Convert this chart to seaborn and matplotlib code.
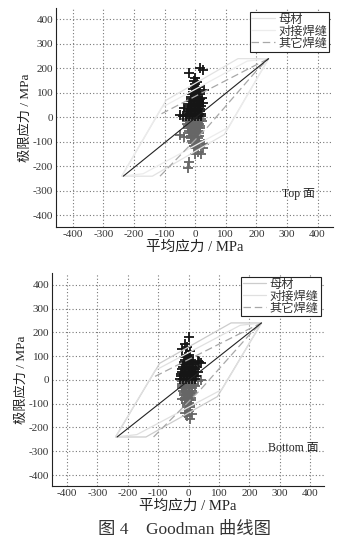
import numpy as np
import pandas as pd
import matplotlib
matplotlib.use("Agg")
import matplotlib.pyplot as plt
import seaborn as sns
from matplotlib.lines import Line2D

sns.set_theme(style="white")
plt.rcParams['font.family'] = ['Liberation Serif', 'Noto Sans CJK SC']

# ---------------- data ----------------
ticks = [-400, -300, -200, -100, 0, 100, 200, 300, 400]
legend_labels = ["母材", "对接焊缝", "其它焊缝"]

# diagonal (mean = max)
diag_x = [-235, 240]
diag_y = [-240, 240]

# envelopes (mean stress, limit stress)
base_x = [-240, -95, 140, 240, 95, -140, -240]
base_y = [-240, 70, 240, 240, -70, -240, -240]
butt_x = [-240, -110, 170, 240, 110, -170, -240]
butt_y = [-240, 40, 230, 240, -40, -230, -240]
other_up_x = [-110, 200, 240]
other_up_y = [15, 215, 240]
other_lo_x = [-115, 40, 200, 240]
other_lo_y = [-240, -40, 190, 240]

# Top face: (mean, max) points and (mean, min) points
top_max_pts = [
    (-30, 5), (-20, 5), (-10, 5), (0, 5), (10, 5), (18, 5),
    (-28, 15), (-18, 15), (-8, 15), (2, 15), (12, 15), (20, 15),
    (-25, 25), (-15, 25), (-5, 25), (5, 25), (15, 25),
    (-22, 35), (-12, 35), (-2, 35), (8, 35), (16, 35),
    (-20, 45), (-10, 45), (0, 45), (10, 45), (18, 45),
    (-18, 55), (-8, 55), (2, 55), (12, 55),
    (-15, 65), (-5, 65), (5, 65), (14, 65),
    (-14, 75), (-4, 75), (6, 75), (15, 75),
    (-12, 85), (-2, 85), (8, 85),
    (-10, 95), (0, 95), (10, 95),
    (-8, 105), (2, 105), (12, 105),
    (-6, 115), (4, 115), (-2, 125), (8, 125),
    (-20, 180), (15, 200), (25, 195), (0, 160), (-5, 150), (5, 145), (0, 135), (30, 110),
    (22, 80), (-35, 40), (-50, 8), (-40, 5), (25, 60),
]
top_min_pts = [
    (-30, -5), (-20, -5), (-10, -5), (0, -5), (10, -5), (20, -5),
    (-28, -15), (-18, -15), (-8, -15), (2, -15), (12, -15), (22, -15),
    (-26, -25), (-16, -25), (-6, -25), (4, -25), (14, -25),
    (-24, -35), (-14, -35), (-4, -35), (6, -35), (16, -35),
    (-22, -45), (-12, -45), (-2, -45), (8, -45), (16, -45),
    (-20, -55), (-10, -55), (0, -55), (10, -55),
    (-18, -65), (-8, -65), (2, -65), (12, -65),
    (-15, -75), (-5, -75), (5, -75), (14, -75),
    (-12, -85), (-2, -85), (8, -85),
    (-10, -95), (0, -95), (10, -95),
    (-8, -105), (2, -105), (12, -105),
    (-5, -115), (5, -115), (-2, -125), (8, -125),
    (-50, -70), (-35, -80), (20, -150), (0, -150), (10, -140), (30, -110),
    (-20, -180), (-25, -205), (25, -125),
]

# Bottom face
bot_max_pts = [
    (-28, 5), (-18, 5), (-8, 5), (2, 5), (12, 5), (22, 5),
    (-26, 15), (-16, 15), (-6, 15), (4, 15), (14, 15), (24, 15),
    (-25, 25), (-15, 25), (-5, 25), (5, 25), (15, 25),
    (-22, 35), (-12, 35), (-2, 35), (8, 35), (18, 35), (30, 35),
    (-20, 45), (-10, 45), (0, 45), (10, 45), (20, 45),
    (-18, 55), (-8, 55), (2, 55), (12, 55), (25, 55),
    (-16, 65), (-6, 65), (4, 65), (14, 65),
    (-14, 75), (-4, 75), (6, 75), (16, 75), (35, 75),
    (-12, 85), (-2, 85), (8, 85),
    (-10, 95), (0, 95), (-8, 105), (2, 105),
    (0, 180), (-20, 130), (-10, 150), (-5, 140), (5, 120), (40, 70), (30, 80),
]
bot_min_pts = [
    (-22, -5), (-12, -5), (-2, -5), (8, -5), (18, -5), (30, -5), (40, -2),
    (-22, -15), (-12, -15), (-2, -15), (8, -15), (18, -15),
    (-20, -25), (-10, -25), (0, -25), (10, -25), (20, -25),
    (-20, -35), (-10, -35), (0, -35), (10, -35),
    (-18, -45), (-8, -45), (2, -45), (12, -45),
    (-16, -55), (-6, -55), (4, -55), (12, -55),
    (-14, -65), (-4, -65), (6, -65),
    (-12, -75), (-2, -75), (8, -75),
    (-10, -85), (0, -85), (8, -85),
    (-8, -95), (2, -95), (-6, -105), (4, -105), (-4, -115), (6, -115),
    (-5, -150), (5, -165), (-10, -140), (10, -145), (0, -130), (-20, -80),
]

panels = [
    dict(pos=[0.155, 0.584, 0.767, 0.401], xlim=(-455, 450), ylim=(-448, 446),
         max_pts=top_max_pts, min_pts=top_min_pts, base_c="#e2e2e2", butt_c="#ececec",
         label="Top 面", label_xy=(283, -313)),
    dict(pos=[0.144, 0.110, 0.754, 0.390], xlim=(-449, 446), ylim=(-446, 450),
         max_pts=bot_max_pts, min_pts=bot_min_pts, base_c="#cccccc", butt_c="#e0e0e0",
         label="Bottom 面", label_xy=(262, -286)),
]

fig = plt.figure(figsize=(3.61, 5.46), dpi=100)
fig.patch.set_facecolor("white")

for p in panels:
    ax = fig.add_axes(p["pos"])
    ax.set_facecolor("white")
    # envelopes
    sns.lineplot(x=base_x, y=base_y, sort=False, estimator=None, ax=ax, color=p["base_c"], lw=0.9)
    sns.lineplot(x=butt_x, y=butt_y, sort=False, estimator=None, ax=ax, color=p["butt_c"], lw=0.9)
    sns.lineplot(x=other_up_x, y=other_up_y, sort=False, estimator=None, ax=ax, color="#a8a8a8", lw=0.9,
                 linestyle=(0, (6, 3)))
    sns.lineplot(x=other_lo_x, y=other_lo_y, sort=False, estimator=None, ax=ax, color="#a8a8a8", lw=0.9,
                 linestyle=(0, (6, 3)))
    # scatter
    mn = pd.DataFrame(p["min_pts"], columns=["mean", "lim"])
    mx = pd.DataFrame(p["max_pts"], columns=["mean", "lim"])
    sns.scatterplot(data=mn, x="mean", y="lim", ax=ax, marker="+", s=50, color="#666666", linewidth=1.3)
    sns.scatterplot(data=mx, x="mean", y="lim", ax=ax, marker="+", s=50, color="#151515", linewidth=1.3)
    # diagonal
    sns.lineplot(x=diag_x, y=diag_y, sort=False, estimator=None, ax=ax, color="#222222", lw=0.8)

    ax.set_xlim(*p["xlim"])
    ax.set_ylim(*p["ylim"])
    ax.set_xticks(ticks)
    ax.set_yticks(ticks)
    ax.set_xticklabels([str(t) for t in ticks], fontsize=8, color="#333333")
    ax.set_yticklabels([str(t) for t in ticks], fontsize=8, color="#333333")
    ax.tick_params(length=0, pad=2)
    ax.grid(True, linestyle=(0, (1, 2)), color="#777777", lw=0.8)
    for s in ["top", "right"]:
        ax.spines[s].set_visible(False)
    for s in ["left", "bottom"]:
        ax.spines[s].set_color("#222222")
        ax.spines[s].set_linewidth(0.8)
    ax.set_xlabel("平均应力 / MPa", fontsize=10.5, labelpad=1, color="#222222")
    ax.set_ylabel("极限应力 / MPa", fontsize=9.5, labelpad=1, color="#222222")
    ax.text(p["label_xy"][0], p["label_xy"][1], p["label"], fontsize=8.5, color="#222222",
            ha="left", va="center")

    handles = [Line2D([], [], color=p["base_c"], lw=0.9),
               Line2D([], [], color=p["butt_c"], lw=0.9),
               Line2D([], [], color="#a8a8a8", lw=0.9, linestyle=(0, (6, 3)))]
    leg = ax.legend(handles, legend_labels, loc="upper right", fontsize=8.8, frameon=True,
                    fancybox=False, framealpha=1, edgecolor="#222222", borderpad=0.15,
                    labelspacing=0.0, handlelength=1.9, handletextpad=0.3, borderaxespad=0.3)
    leg.get_frame().set_linewidth(0.8)
    for t in leg.get_texts():
        t.set_color("#333333")

fig.text(0.512, 0.029, "图 4    Goodman 曲线图", fontsize=12.5, ha="center", va="center", color="#333333")

fig.savefig("out.png", dpi=100, facecolor="white")
